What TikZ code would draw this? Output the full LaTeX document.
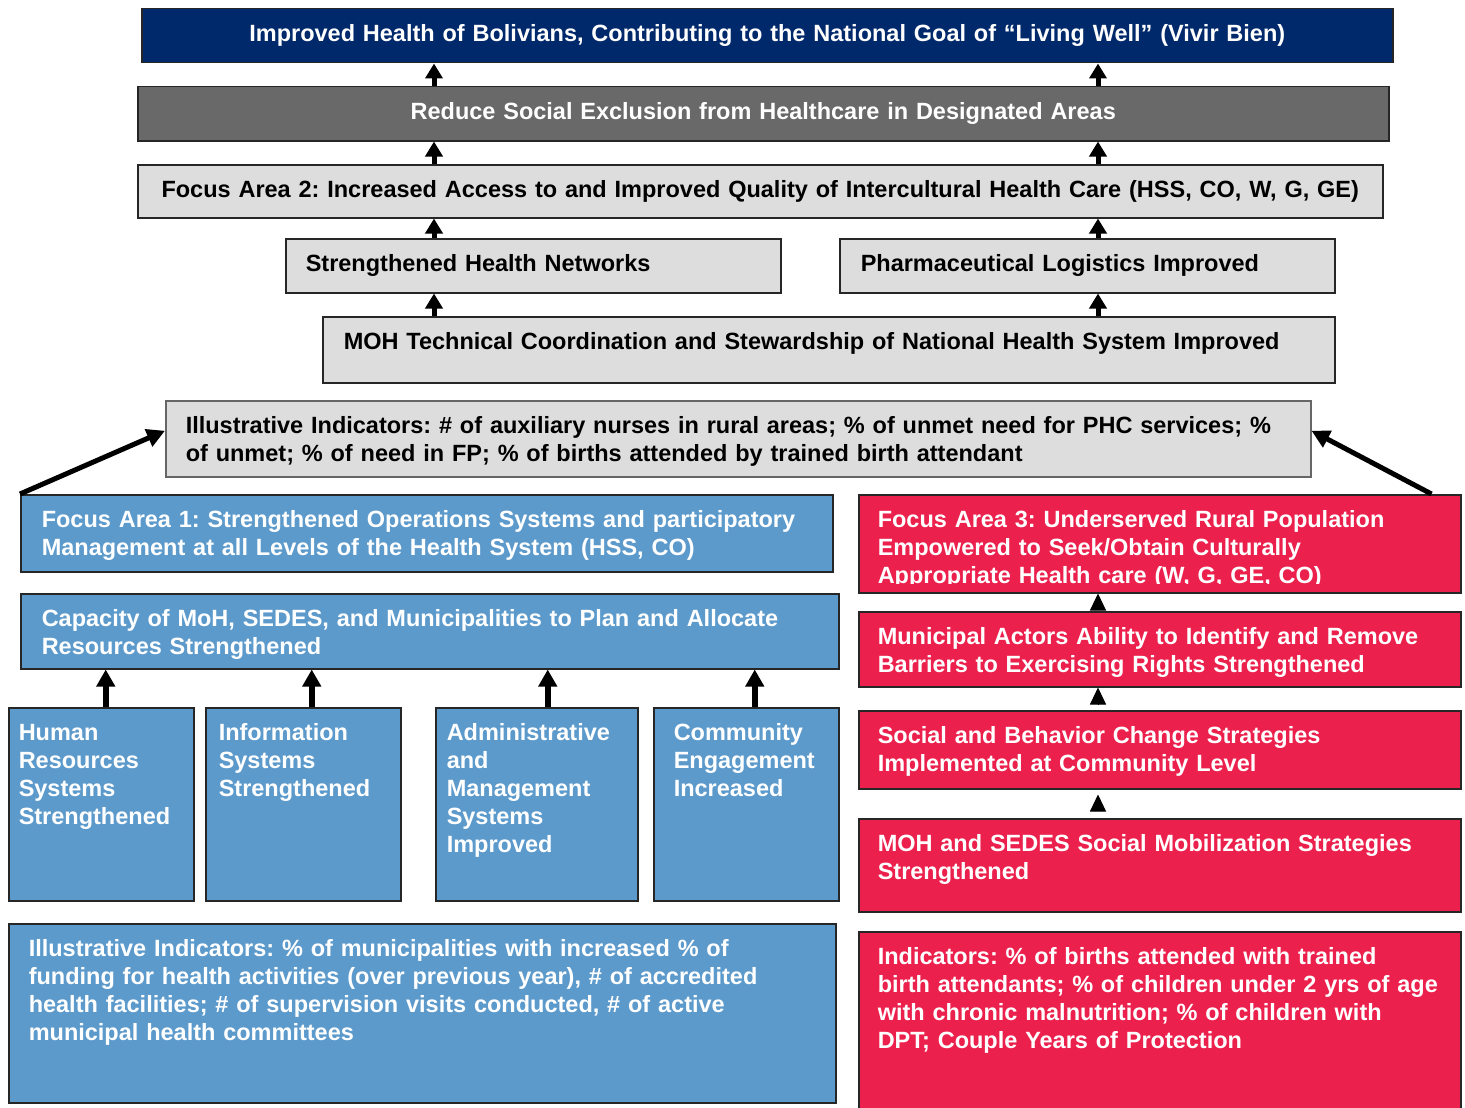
\documentclass[tikz,border=0pt]{standalone}
\usepackage{fontspec}
\setmainfont{Liberation Sans}
\usepackage{xcolor}
\usetikzlibrary{arrows.meta}
\frenchspacing

\definecolor{goalblue}{RGB}{0,41,107}
\definecolor{darkgray}{RGB}{105,105,105}
\definecolor{lightgray}{RGB}{221,221,221}
\definecolor{areablue}{RGB}{92,154,204}
\definecolor{areared}{RGB}{236,32,76}

\tikzset{
    box/.style={draw=black!85, line width=1.5pt, anchor=north west, align=left,
        inner ysep=16pt, text height=17pt,
        font=\fontsize{23.5}{28}\selectfont\bfseries},
    greybox/.style={box, fill=lightgray, text=black},
    bluebox/.style={box, fill=areablue, text=white},
    redbox/.style={box, fill=areared, text=white},
    uparrow/.style={line width=5pt, -{Triangle[width=17pt,length=15pt]}},
    barrow/.style={line width=6pt, -{Triangle[width=18pt,length=17pt]}},
    slantarrow/.style={line width=5pt, -{Triangle[width=18pt,length=18pt]}},
    tiparrow/.style={line width=1pt, -{Triangle[width=16pt,length=17pt]}}
}

\begin{document}
\begin{tikzpicture}[x=1pt, y=-1pt]
    \useasboundingbox[fill=white] (0,0) rectangle (1465,1108);

    % goal and upper results
    \node[box, fill=goalblue, text=white, align=center, inner xsep=0pt, text width=1251pt, text depth=5pt] (goal) at (141,8)
        {Improved Health of Bolivians, Contributing to the National Goal of “Living Well” (Vivir Bien)};
    \node[box, fill=darkgray, text=white, align=center, inner xsep=0pt, text width=1251pt, text depth=5pt] (reduce) at (137,86)
        {Reduce Social Exclusion from Healthcare in Designated Areas};
    \node[greybox, align=center, inner xsep=0pt, text width=1245pt, text depth=4pt] (fa2) at (137,164)
        {Focus Area 2: Increased Access to and Improved Quality of Intercultural Health Care (HSS, CO, W, G, GE)};
    \node[greybox, inner xsep=20pt, text width=455pt, text depth=5pt] (shn) at (285,238)
        {Strengthened Health Networks};
    \node[greybox, inner xsep=21pt, text width=453pt, text depth=5pt] (pharm) at (839,238)
        {Pharmaceutical Logistics Improved};
    \node[greybox, inner xsep=21pt, text width=970pt, text depth=17pt] (moh) at (322,316)
        {MOH Technical Coordination and Stewardship of National Health System Improved};
    \node[greybox, draw=black!60, inner xsep=20pt, text width=1105pt, text depth=27pt] (ind1) at (165,400)
        {Illustrative Indicators: \# of auxiliary nurses in rural areas; \% of unmet need for PHC services; \%\\
         of unmet; \% of need in FP; \% of births attended by trained birth attendant};

    % focus area 1
    \node[bluebox, inner xsep=21pt, text width=770pt, text depth=28pt] (fa1) at (20,494)
        {Focus Area 1: Strengthened Operations Systems and participatory\\
         Management at all Levels of the Health System (HSS, CO)};
    \node[bluebox, inner xsep=21pt, text width=776pt, text depth=26pt] (cap) at (20,593)
        {Capacity of MoH, SEDES, and Municipalities to Plan and Allocate\\
         Resources Strengthened};
    \node[bluebox, inner xsep=10pt, text width=165pt, text depth=144pt] (hr) at (8,707)
        {Human\\Resources\\Systems\\Strengthened};
    \node[bluebox, inner xsep=13pt, text width=169pt, text depth=144pt] (info) at (205,707)
        {Information\\Systems\\Strengthened};
    \node[bluebox, inner xsep=11pt, text width=180pt, text depth=144pt] (adm) at (435,707)
        {Administrative\\and\\Management\\Systems\\Improved};
    \node[bluebox, inner xsep=20pt, text width=145pt, text depth=144pt] (com) at (653,707)
        {Community\\Engagement\\Increased};
    \node[bluebox, inner xsep=20pt, text width=787pt, text depth=130pt] (ind2) at (8,923)
        {Illustrative Indicators: \% of municipalities with increased \% of\\
         funding for health activities (over previous year), \# of accredited\\
         health facilities; \# of supervision visits conducted, \# of active\\
         municipal health committees};

    % focus area 3
    \node[redbox, inner xsep=19pt, text width=564pt, text depth=49pt] (fa3) at (858,494) {};
    \begin{scope}
        \clip (fa3.north west) rectangle ([yshift=10pt]fa3.south east);
        \node[redbox, draw=none, fill=none, inner xsep=19pt, text width=564pt, text depth=49pt] (fa3-t) at (858,494)
            {Focus Area 3: Underserved Rural Population\\
             Empowered to Seek/Obtain Culturally\\
             Appropriate Health care (W, G, GE, CO)};
    \end{scope}
    \node[redbox, inner xsep=19pt, text width=564pt, text depth=26pt] (mun) at (858,611)
        {Municipal Actors Ability to Identify and Remove\\
         Barriers to Exercising Rights Strengthened};
    \node[redbox, inner xsep=19pt, text width=564pt, text depth=29pt] (sbc) at (858,710)
        {Social and Behavior Change Strategies\\
         Implemented at Community Level};
    \node[redbox, inner xsep=19pt, text width=564pt, text depth=44pt] (mob) at (858,818)
        {MOH and SEDES Social Mobilization Strategies\\
         Strengthened};
    \node[redbox, inner xsep=19pt, text width=564pt, text depth=140pt] (ind3) at (858,931)
        {Indicators: \% of births attended with trained\\
         birth attendants; \% of children under 2 yrs of age\\
         with chronic malnutrition; \% of children with\\
         DPT; Couple Years of Protection};

    % arrows
    \coordinate (colA) at (434,0);
    \coordinate (colB) at (1098,0);
    \draw[uparrow] (reduce.north -| colA) -- (goal.south -| colA);
    \draw[uparrow] (reduce.north -| colB) -- (goal.south -| colB);
    \draw[uparrow] (fa2.north -| colA) -- (reduce.south -| colA);
    \draw[uparrow] (fa2.north -| colB) -- (reduce.south -| colB);
    \draw[uparrow] (shn.north -| colA) -- (fa2.south -| colA);
    \draw[uparrow] (pharm.north -| colB) -- (fa2.south -| colB);
    \draw[uparrow] (moh.north -| colA) -- (shn.south -| colA);
    \draw[uparrow] (moh.north -| colB) -- (pharm.south -| colB);

    \draw[slantarrow] (fa1.north west) -- ([yshift=8pt]ind1.west);
    \draw[slantarrow] ([xshift=-30pt]fa3.north east) -- ([yshift=8pt]ind1.east);

    \foreach \n/\dx in {hr/4.5, info/8.5, adm/11, com/8.5} {
        \coordinate (\n-up) at ([xshift=\dx pt]\n.north);
        \draw[barrow] (\n-up) -- (\n-up |- cap.south);
    }

    \draw[tiparrow, shorten <=2pt] (mun.north -| colB) -- (fa3.south -| colB);
    \draw[tiparrow, shorten <=6pt] (sbc.north -| colB) -- (mun.south -| colB);
    \draw[tiparrow, shorten <=8pt, shorten >=5pt] (mob.north -| colB) -- (sbc.south -| colB);
\end{tikzpicture}
\end{document}
